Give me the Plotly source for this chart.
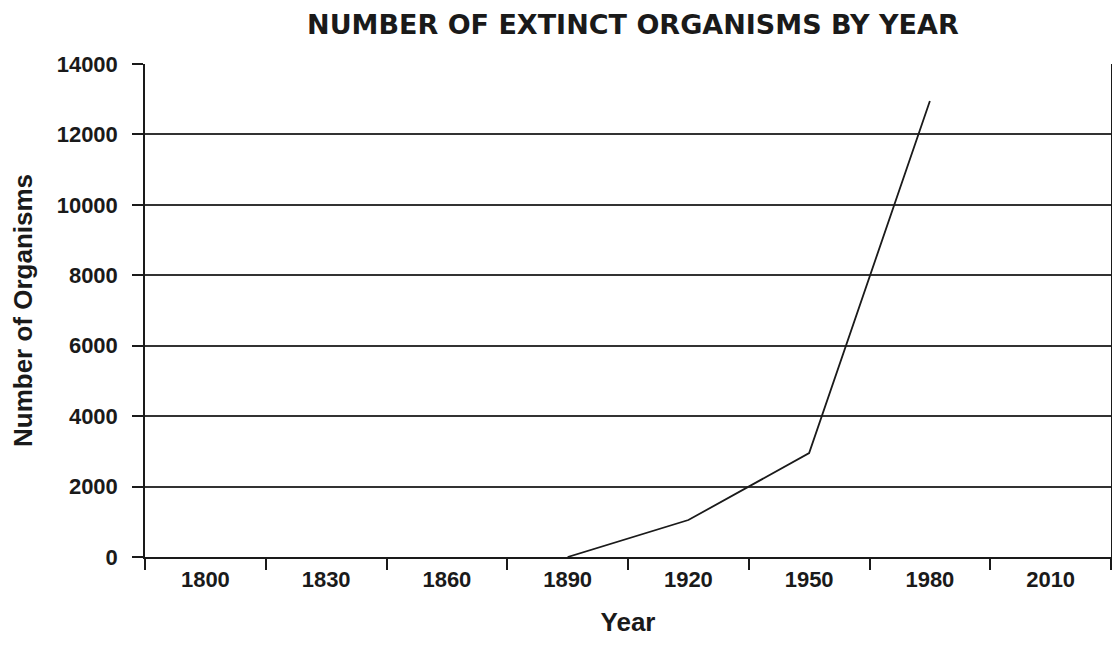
import plotly.graph_objects as go

# Data
years = ["1800", "1830", "1860", "1890", "1920", "1950", "1980", "2010"]
extinct_counts = [None, None, None, 0, 1050, 2950, 12950, None]
y_ticks = [0, 2000, 4000, 6000, 8000, 10000, 12000, 14000]

font_family = "Liberation Sans, Arial, sans-serif"
title_family = "DejaVu Sans, Liberation Sans, sans-serif"
ink = "#1a1a1a"

fig = go.Figure()

fig.add_trace(go.Scatter(
    x=years,
    y=extinct_counts,
    mode="lines",
    line=dict(color=ink, width=1.8),
    connectgaps=False,
    showlegend=False,
    hoverinfo="x+y",
))

fig.update_layout(
    width=1106,
    height=629,
    margin=dict(l=137, r=1, t=56, b=80),
    paper_bgcolor="white",
    plot_bgcolor="white",
    font=dict(family=font_family, color=ink),
    title=dict(
        text="<b>NUMBER OF EXTINCT ORGANISMS BY YEAR</b>",
        x=0.565,
        xanchor="center",
        y=0.974,
        yanchor="middle",
        font=dict(size=27, family=title_family, color=ink),
    ),
    xaxis=dict(
        type="category",
        categoryorder="array",
        categoryarray=years,
        tickson="boundaries",
        ticks="outside",
        ticklen=11,
        tickwidth=1.5,
        tickcolor=ink,
        showline=True,
        linecolor=ink,
        linewidth=1.5,
        showgrid=False,
        automargin=False,
        ticklabelstandoff=2,
        tickfont=dict(size=22, family=font_family, color=ink, weight="bold"),
        title=dict(text="<b>Year</b>", font=dict(size=26, family=font_family, color=ink), standoff=30),
        range=[-0.5, 7.5],
        fixedrange=True,
    ),
    yaxis=dict(
        range=[0, 14000],
        tickvals=y_ticks,
        ticktext=[str(v) for v in y_ticks],
        ticks="outside",
        ticklen=11,
        tickwidth=1.5,
        tickcolor=ink,
        showline=True,
        mirror=True,
        linecolor=ink,
        linewidth=1.5,
        showgrid=True,
        gridcolor="#333333",
        gridwidth=1.5,
        zeroline=False,
        ticklabelstandoff=10,
        tickfont=dict(size=22, family=font_family, color=ink, weight="bold"),
        title=dict(text="<b>Number of Organisms</b>", font=dict(size=26, family=font_family, color=ink), standoff=19),
        fixedrange=True,
    ),
)

fig.write_html("out.html")
